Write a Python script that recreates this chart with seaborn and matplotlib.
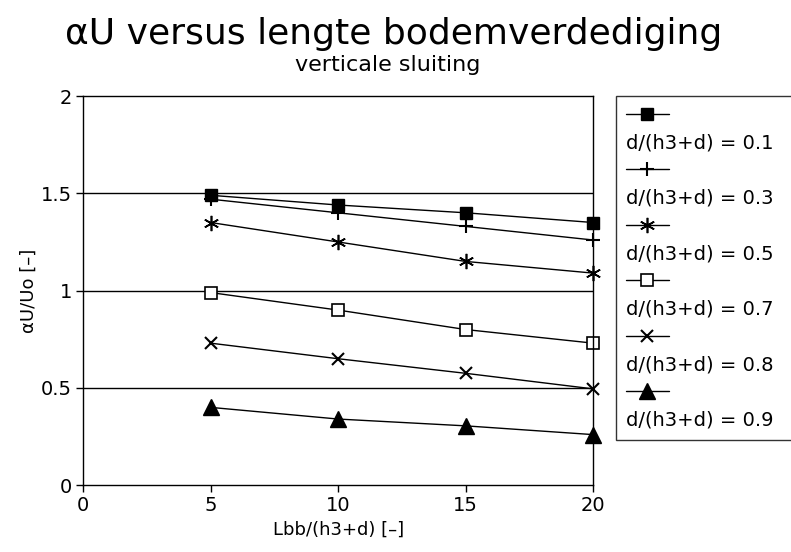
import matplotlib
matplotlib.use("Agg")
import matplotlib.pyplot as plt
import seaborn as sns
import pandas as pd
from matplotlib.lines import Line2D

x_vals = [5, 10, 15, 20]
s01 = [1.49, 1.44, 1.40, 1.35]
s03 = [1.47, 1.40, 1.33, 1.26]
s05 = [1.35, 1.25, 1.15, 1.09]
s07 = [0.99, 0.90, 0.80, 0.73]
s08 = [0.73, 0.65, 0.575, 0.495]
s09 = [0.40, 0.34, 0.305, 0.26]
labels = ["d/(h3+d) = 0.1", "d/(h3+d) = 0.3", "d/(h3+d) = 0.5",
          "d/(h3+d) = 0.7", "d/(h3+d) = 0.8", "d/(h3+d) = 0.9"]
series = [s01, s03, s05, s07, s08, s09]

rows = []
for lab, ys in zip(labels, series):
    for xv, yv in zip(x_vals, ys):
        rows.append({"x": xv, "y": yv, "series": lab})
df = pd.DataFrame(rows)

sns.set_style("white")
plt.rcParams['font.family'] = ['DejaVu Sans']
plt.rcParams['text.color'] = 'black'
plt.rcParams['axes.labelcolor'] = 'black'

fig = plt.figure(figsize=(7.91, 5.52), dpi=100)
ax = fig.add_axes([0.105, 0.121, 0.645, 0.705])

styles = [
    dict(marker="s", ms=8, mfc="black", mec="black", mew=1.0),
    dict(marker="+", ms=10, mfc="black", mec="black", mew=1.5),
    dict(marker=(6, 2, 0), ms=11, mfc="black", mec="black", mew=1.2),
    dict(marker="s", ms=8, mfc="white", mec="black", mew=1.2),
    dict(marker="x", ms=9, mfc="black", mec="black", mew=1.5),
    dict(marker="^", ms=12, mfc="black", mec="black", mew=1.0),
]

handles = []
for lab, st in zip(labels, styles):
    sub = df[df["series"] == lab]
    sns.lineplot(data=sub, x="x", y="y", ax=ax, color="black", lw=1.0,
                 label=lab, legend=False, clip_on=False, **st)
    handles.append(Line2D([], [], color="black", lw=1.0, **st))

for yv in [0.5, 1.0, 1.5]:
    ax.axhline(yv, color="black", lw=1.0, zorder=0)

ax.set_xlim(0, 20)
ax.set_ylim(0, 2)
ax.set_xticks([0, 5, 10, 15, 20])
ax.set_yticks([0, 0.5, 1, 1.5, 2])
ax.set_yticklabels(["0", "0.5", "1", "1.5", "2"])
ax.tick_params(axis="both", direction="out", length=5, width=1, labelsize=14,
               colors="black", bottom=True, left=True, pad=3)
for sp in ax.spines.values():
    sp.set_color("black")
    sp.set_linewidth(1.0)
ax.set_xlabel("Lbb/(h3+d) [–]", fontsize=13, labelpad=4)
ax.set_ylabel("αU/Uo [–]", fontsize=13, labelpad=2)

fig.text(0.498, 0.938, "αU versus lengte bodemverdediging", ha="center",
         va="center", fontsize=26)
fig.text(0.49, 0.883, "verticale sluiting", ha="center", va="center",
         fontsize=16)

leg_handles = []
leg_labels = []
for h, lab in zip(handles, labels):
    leg_handles.append(h)
    leg_labels.append("")
    leg_handles.append(Line2D([], [], color="none"))
    leg_labels.append(lab)

leg = fig.legend(leg_handles, leg_labels, loc="upper left",
                 bbox_to_anchor=(616 / 791, 0.0, 0.3, 1 - 96 / 552),
                 bbox_transform=fig.transFigure, mode="expand",
                 frameon=True, fontsize=14,
                 handlelength=2.2, handletextpad=-2.2, labelspacing=0.45,
                 borderpad=0.5, borderaxespad=0.0, fancybox=False)
leg.get_frame().set_edgecolor("black")
leg.get_frame().set_linewidth(1.0)

fig.savefig("out.png", dpi=100)
